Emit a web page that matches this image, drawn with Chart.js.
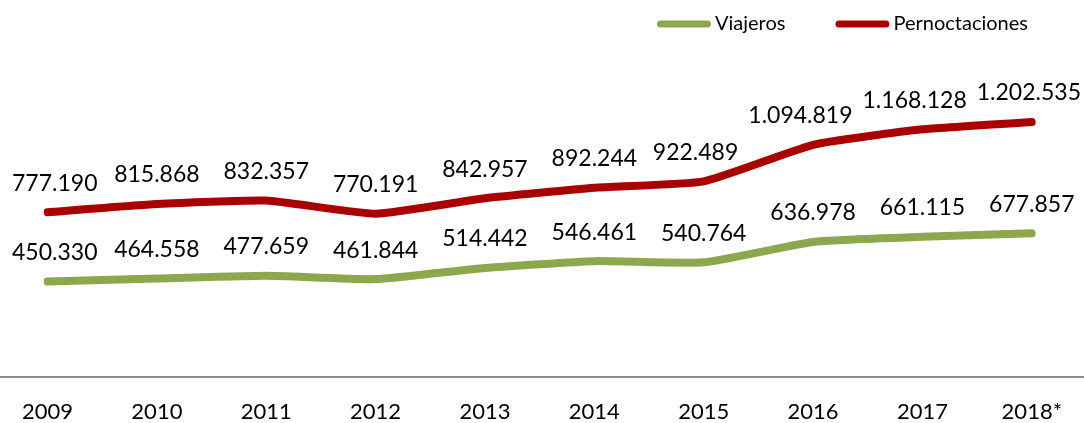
<!DOCTYPE html>
<html>
<head>
<meta charset="utf-8">
<script src="https://cdn.jsdelivr.net/npm/chart.js@4/dist/chart.umd.min.js"></script>
<style>
html,body{margin:0;padding:0;background:#fff;}
#wrap{width:1084px;height:423px;position:relative;}
</style>
</head>
<body>
<div id="wrap"><canvas id="c" width="1084" height="423"></canvas></div>
<script>
const categories = ['2009','2010','2011','2012','2013','2014','2015','2016','2017','2018*'];
const viajeros = [450330, 464558, 477659, 461844, 514442, 546461, 540764, 636978, 661115, 677857];
const pernoctaciones = [777190, 815868, 832357, 770191, 842957, 892244, 922489, 1094819, 1168128, 1202535];
const seriesNames = ['Viajeros', 'Pernoctaciones'];
const seriesColors = ['#8BA84F', '#A90000'];

const FONT = 'Lato, "Open Sans", sans-serif';

function fmt(v){
  return String(v).replace(/\B(?=(\d{3})+(?!\d))/g, '.');
}

const labelPlugin = {
  id: 'dataLabels',
  afterDatasetsDraw(chart){
    const ctx = chart.ctx;
    ctx.save();
    ctx.font = '23px ' + FONT;
    ctx.fillStyle = '#000';
    ctx.textAlign = 'center';
    ctx.textBaseline = 'middle';
    const leftBound = 12, rightBound = 1081, gap = 10;
    chart.data.datasets.forEach((ds, di) => {
      const meta = chart.getDatasetMeta(di);
      const items = meta.data.map((pt, i) => {
        const t = fmt(ds.data[i]);
        const w = ctx.measureText(t).width;
        let x = pt.x;
        x = Math.max(x, leftBound + w/2);
        x = Math.min(x, rightBound - w/2);
        return {t, w, x, y: pt.y - 29};
      });
      for (let i = items.length - 2; i >= 0; i--) {
        const nxtStart = items[i+1].x - items[i+1].w/2;
        const maxX = nxtStart - gap - items[i].w/2;
        if (items[i].x > maxX) items[i].x = maxX;
      }
      items.forEach(it => ctx.fillText(it.t, it.x, it.y));
    });
    ctx.restore();
  }
};

const axisLinePlugin = {
  id: 'axisLine',
  beforeDatasetsDraw(chart){
    const ctx = chart.ctx;
    const y = chart.scales.y.getPixelForValue(0);
    ctx.save();
    ctx.strokeStyle = '#8C8C8C';
    ctx.lineWidth = 2;
    ctx.beginPath();
    ctx.moveTo(0, y);
    ctx.lineTo(chart.width, y);
    ctx.stroke();
    ctx.restore();
  }
};

const legendPlugin = {
  id: 'customLegend',
  afterDraw(chart){
    const ctx = chart.ctx;
    ctx.save();
    ctx.font = '20px ' + FONT;
    ctx.textBaseline = 'middle';
    ctx.fillStyle = '#000';
    const y = 24;
    const boxW = 54, boxGap = 4, itemGap = 50;
    const widths = chart.data.datasets.map(ds => boxW + boxGap + ctx.measureText(ds.label).width);
    const total = widths.reduce((a,b)=>a+b,0) + itemGap*(widths.length-1);
    let x = 1028 - total;
    chart.data.datasets.forEach((ds, i) => {
      ctx.strokeStyle = ds.borderColor;
      ctx.lineWidth = 7;
      ctx.lineCap = 'round';
      ctx.beginPath();
      ctx.moveTo(x + 3.5, y);
      ctx.lineTo(x + boxW - 3.5, y);
      ctx.stroke();
      ctx.textAlign = 'left';
      ctx.fillText(ds.label, x + boxW + boxGap, y);
      x += widths[i] + itemGap;
    });
    ctx.restore();
  }
};

new Chart(document.getElementById('c'), {
  type: 'line',
  data: {
    labels: categories,
    datasets: [
      { label: seriesNames[0], data: viajeros, borderColor: seriesColors[0], backgroundColor: seriesColors[0] },
      { label: seriesNames[1], data: pernoctaciones, borderColor: seriesColors[1], backgroundColor: seriesColors[1] }
    ]
  },
  options: {
    responsive: false,
    animation: false,
    devicePixelRatio: 1,
    layout: { padding: { left: 46, right: 48, top: 77, bottom: 0 } },
    elements: {
      line: { borderWidth: 8, tension: 0.15, borderCapStyle: 'round', borderJoinStyle: 'round', fill: false },
      point: { radius: 0, hoverRadius: 0 }
    },
    plugins: {
      legend: { display: false },
      tooltip: { enabled: false }
    },
    scales: {
      x: {
        offset: false,
        grid: { display: false, drawTicks: false },
        border: { display: false },
        ticks: { color: '#000', font: { family: FONT, size: 22 }, padding: 22, maxRotation: 0, autoSkip: false },
        afterFit(scale){ scale.height = 46; }
      },
      y: {
        display: false,
        min: 0,
        max: 1415000
      }
    }
  },
  plugins: [axisLinePlugin, labelPlugin, legendPlugin]
});
</script>
</body>
</html>
